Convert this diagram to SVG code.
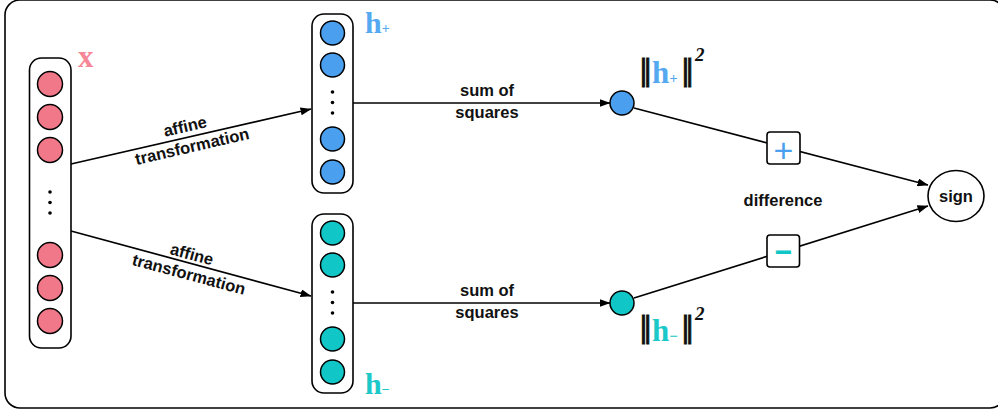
<svg xmlns="http://www.w3.org/2000/svg" width="998" height="410" viewBox="0 0 998 410">
<defs>
<marker id="arr" markerWidth="11" markerHeight="8" refX="10.5" refY="4" orient="auto" markerUnits="userSpaceOnUse">
<path d="M0,0 L11,4 L0,8 z" fill="#000"/>
</marker>
<style>
.box{fill:#fff;stroke:#000;stroke-width:1.6}
.cr{fill:#f07888;stroke:#000;stroke-width:1.5}
.cb{fill:#4aa0ee;stroke:#000;stroke-width:1.5}
.ct{fill:#10c6c6;stroke:#000;stroke-width:1.5}
.dot{fill:#000}
.edge{fill:none;stroke:#000;stroke-width:1.7;marker-end:url(#arr)}
.lbl{font-family:"Liberation Sans",Arial,sans-serif;font-weight:bold;font-size:16.5px;fill:#111}
.ser{font-family:"Liberation Serif","Times New Roman",serif;font-weight:bold}
.bar{font-family:"Liberation Serif","Times New Roman",serif;font-weight:bold;font-size:31px;fill:#111;stroke:#111;stroke-width:0.9;letter-spacing:-2.6px}
</style>
</defs>
<rect x="5" y="0" width="1000" height="408" rx="15" fill="none" stroke="#000" stroke-width="1.6"/>

<g id="connectors">
<line class="edge" x1="71" y1="164" x2="311" y2="109"/>
<line class="edge" x1="71" y1="231" x2="311" y2="296"/>
<line class="edge" x1="353" y1="103" x2="610" y2="103"/>
<line class="edge" x1="353" y1="303" x2="610" y2="303"/>
<line class="edge" x1="634" y1="108" x2="928" y2="185"/>
<line class="edge" x1="634" y1="298" x2="928" y2="206"/>
<g transform="translate(185,126) rotate(-13)"><text class="lbl" x="0" y="6" text-anchor="middle">affine</text></g>
<g transform="translate(192,146) rotate(-13)"><text class="lbl" x="0" y="6" text-anchor="middle">transformation</text></g>
<g transform="translate(192,254) rotate(15)"><text class="lbl" x="0" y="6" text-anchor="middle">affine</text></g>
<g transform="translate(189,274) rotate(15)"><text class="lbl" x="0" y="6" text-anchor="middle">transformation</text></g>
<text class="lbl" x="487" y="96" text-anchor="middle">sum of</text>
<text class="lbl" x="487" y="118" text-anchor="middle">squares</text>
<text class="lbl" x="487" y="296" text-anchor="middle">sum of</text>
<text class="lbl" x="487" y="318" text-anchor="middle">squares</text>
<text class="lbl" x="783" y="206" text-anchor="middle">difference</text>
</g>

<g id="input-x">
<rect class="box" x="29.5" y="58" width="41.5" height="290" rx="12"/>
<circle class="cr" cx="50" cy="84" r="12.5"/>
<circle class="cr" cx="50" cy="117" r="12.5"/>
<circle class="cr" cx="50" cy="150" r="12.5"/>
<circle class="dot" cx="50" cy="192" r="1.8"/>
<circle class="dot" cx="50" cy="202.5" r="1.8"/>
<circle class="dot" cx="50" cy="213" r="1.8"/>
<circle class="cr" cx="50" cy="255" r="12.5"/>
<circle class="cr" cx="50" cy="288" r="12.5"/>
<circle class="cr" cx="50" cy="321" r="12.5"/>
<text class="ser" x="78" y="67" font-size="31" fill="#f58797">x</text>
</g>

<g id="h-plus">
<rect class="box" x="312" y="14" width="41" height="179" rx="12"/>
<circle class="cb" cx="332.5" cy="33" r="12"/>
<circle class="cb" cx="332.5" cy="65" r="12"/>
<circle class="dot" cx="332.5" cy="92" r="1.8"/>
<circle class="dot" cx="332.5" cy="102.5" r="1.8"/>
<circle class="dot" cx="332.5" cy="113" r="1.8"/>
<circle class="cb" cx="332.5" cy="139" r="12"/>
<circle class="cb" cx="332.5" cy="172" r="12"/>
<text class="ser" x="365" y="33" font-size="30" fill="#55a9f0">h<tspan font-size="14">+</tspan></text>
</g>

<g id="h-minus">
<rect class="box" x="312" y="214" width="41" height="179" rx="12"/>
<circle class="ct" cx="332.5" cy="233" r="12"/>
<circle class="ct" cx="332.5" cy="265" r="12"/>
<circle class="dot" cx="332.5" cy="292" r="1.8"/>
<circle class="dot" cx="332.5" cy="302.5" r="1.8"/>
<circle class="dot" cx="332.5" cy="313" r="1.8"/>
<circle class="ct" cx="332.5" cy="339" r="12"/>
<circle class="ct" cx="332.5" cy="372" r="12"/>
<text class="ser" x="365" y="394" font-size="30" fill="#1cc8c8">h<tspan font-size="14">−</tspan></text>
</g>

<g id="norm-plus">
<circle class="cb" cx="622" cy="103" r="12"/>
<text class="bar" x="640" y="80">||</text>
<text class="ser" x="652" y="83" font-size="31" fill="#55a9f0">h<tspan font-size="15">+</tspan></text>
<text class="bar" x="682" y="80">||</text>
<text class="ser" x="695" y="61" font-size="19" font-style="italic" fill="#111">2</text>
</g>

<g id="norm-minus">
<circle class="ct" cx="622" cy="303" r="12"/>
<text class="bar" x="640" y="337">||</text>
<text class="ser" x="652" y="341" font-size="31" fill="#1cc8c8">h<tspan font-size="15">−</tspan></text>
<text class="bar" x="682" y="337">||</text>
<text class="ser" x="695" y="320" font-size="19" font-style="italic" fill="#111">2</text>
</g>

<g id="plus-op">
<rect class="box" x="767" y="132" width="33" height="32" rx="3"/>
<text x="783.5" y="161.5" text-anchor="middle" font-family="Liberation Sans, Arial, sans-serif" font-size="34" fill="#4aa0ee">+</text>
</g>

<g id="minus-op">
<rect class="box" x="767" y="235" width="32.5" height="32" rx="3"/>
<text x="783.5" y="262" text-anchor="middle" font-family="Liberation Sans, Arial, sans-serif" font-weight="bold" font-size="30" fill="#10c6c6">−</text>
</g>

<g id="sign">
<ellipse class="box" cx="956" cy="196" rx="28" ry="25.5"/>
<text class="lbl" x="956" y="202" text-anchor="middle">sign</text>
</g>
</svg>
